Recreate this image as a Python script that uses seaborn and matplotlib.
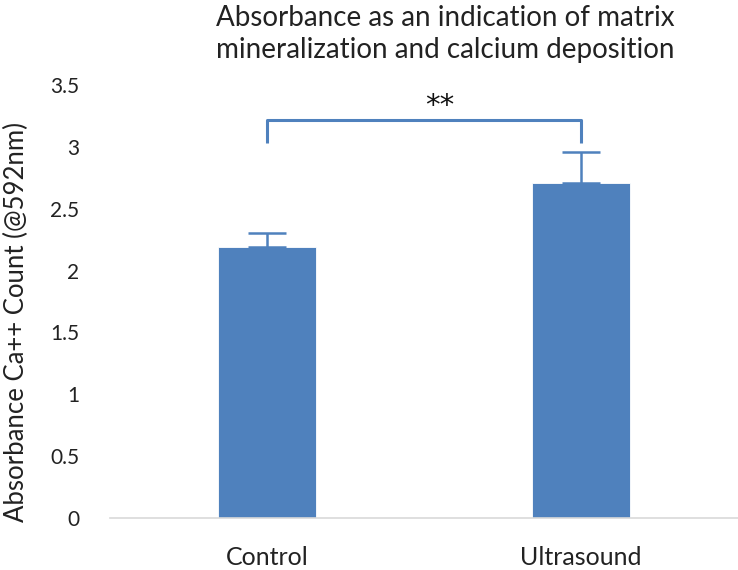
import numpy as np
import pandas as pd
import matplotlib
matplotlib.use("Agg")
import matplotlib.pyplot as plt
import seaborn as sns

# -----------------------------
# DATA
# -----------------------------
groups = ["Control", "Ultrasound"]
absorbance = [2.19, 2.71]
err_upper = [0.11, 0.25]

# significance bracket
bracket_low = 3.03
bracket_high = 3.22
sig_label = "**"

df = pd.DataFrame({"group": groups, "absorbance": absorbance})

# -----------------------------
# STYLE
# -----------------------------
sns.set_style("white")
plt.rcParams["font.family"] = ["Lato", "DejaVu Sans"]

blue = "#4F81BD"

fig = plt.figure(figsize=(7.38, 5.70), dpi=100)
ax = fig.add_axes([110 / 738, (570 - 518) / 570, 628 / 738, (518 - 85) / 570])

sns.barplot(data=df, x="group", y="absorbance", color=blue, width=0.314,
            errorbar=None, saturation=1, ax=ax, edgecolor="white", linewidth=0.6)

# upper error bars only
xpos = np.arange(len(groups))
ax.errorbar(xpos, absorbance, yerr=[np.zeros(len(groups)), err_upper],
            fmt="none", ecolor=blue, elinewidth=1.8, capsize=14, capthick=1.8)

# bracket between the two bars
ax.plot([xpos[0], xpos[0], xpos[1], xpos[1]],
        [bracket_low, bracket_high, bracket_high, bracket_low],
        color=blue, lw=2.2, solid_joinstyle="round", solid_capstyle="butt")
ax.text((xpos[0] + xpos[1]) / 2 + 0.05, 3.33, sig_label,
        ha="center", va="center", fontsize=21, color="#111111",
        family="DejaVu Sans")

# -----------------------------
# AXES
# -----------------------------
ax.set_xlim(-0.5, 1.5)
ax.set_ylim(0, 3.5)
ax.set_yticks(np.arange(0, 3.51, 0.5))
ax.set_yticklabels(["0", "0.5", "1", "1.5", "2", "2.5", "3", "3.5"])
ax.tick_params(axis="y", length=0, labelsize=15, pad=22, colors="#222222")
ax.tick_params(axis="x", length=0, labelsize=18, pad=20, colors="#222222")
ax.set_xlabel("")
ax.set_ylabel("")

for side in ["top", "right", "left"]:
    ax.spines[side].set_visible(False)
ax.spines["bottom"].set_color("#D9D9D9")
ax.spines["bottom"].set_linewidth(1.2)

fig.text(16 / 738, 1 - 322 / 570, "Absorbance Ca++ Count (@592nm)",
         rotation=90, ha="center", va="center", fontsize=18.5, color="#222222")
fig.text(445 / 738, 1 - 34 / 570,
         "Absorbance as an indication of matrix\nmineralization and calcium deposition",
         ha="center", va="center", fontsize=20, color="#222222", linespacing=1.3)

plt.savefig("out.png", dpi=100)
plt.close()
